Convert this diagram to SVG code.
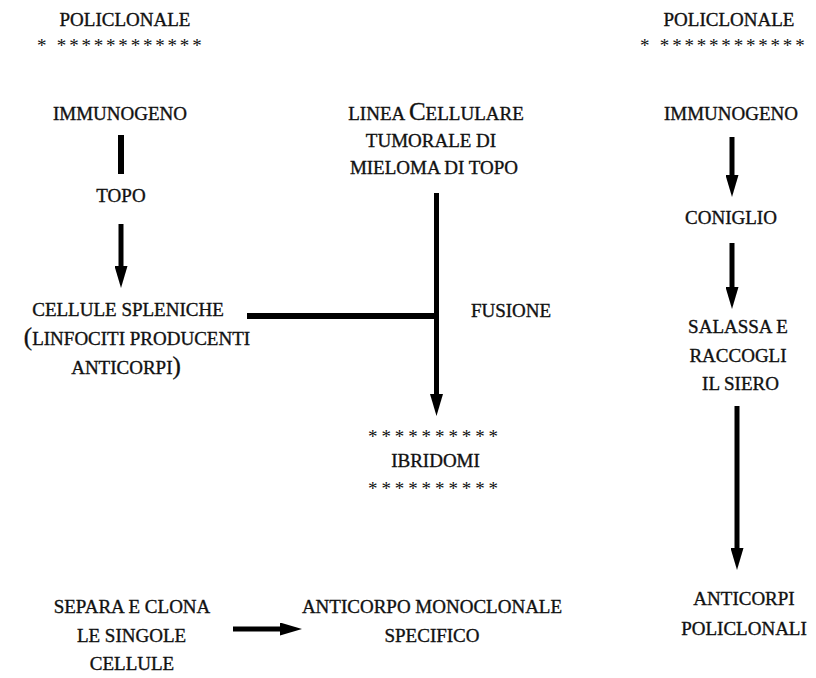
<svg xmlns="http://www.w3.org/2000/svg" width="816" height="678" viewBox="0 0 816 678">
  <style>
    text { font-family: "Liberation Serif", "Times New Roman", serif; font-size: 19px; fill: #111; stroke: #111; stroke-width: 0.35px; text-anchor: middle; }
    .stars { text-anchor: start; letter-spacing: 2.8px; stroke-width: 0; }
    .big { font-size: 25px; }
    .bar { stroke: #000; stroke-width: 6; fill: none; }
    .arrow { stroke: #000; stroke-width: 5; fill: none; marker-end: url(#head); }
  </style>
  <defs>
    <marker id="head" markerUnits="userSpaceOnUse" markerWidth="22" markerHeight="13" refX="1" refY="6.5" orient="auto">
      <path d="M0,0 L22,6.5 L0,13 Z" fill="#000"/>
    </marker>
  </defs>

  <rect width="816" height="678" fill="#fff"/>

  <!-- headings -->
  <g id="heading-left">
    <text x="125" y="26">POLICLONALE</text>
    <text class="stars" x="37" y="52">*  ************</text>
  </g>
  <g id="heading-right">
    <text x="729" y="26">POLICLONALE</text>
    <text class="stars" x="640" y="52">*  ************</text>
  </g>

  <!-- monoclonal branch -->
  <g id="immunogeno-left"><text x="120" y="120">IMMUNOGENO</text></g>
  <g id="topo"><text x="121" y="202">TOPO</text></g>
  <g id="cellule-spleniche">
    <text x="128" y="316">CELLULE SPLENICHE</text>
    <text x="137" y="345"><tspan class="big">(</tspan>LINFOCITI PRODUCENTI</text>
    <text x="126" y="374">ANTICORPI<tspan class="big">)</tspan></text>
  </g>
  <g id="linea-cellulare">
    <text x="436" y="120">LINEA <tspan class="big">C</tspan>ELLULARE</text>
    <text x="431" y="147">TUMORALE DI</text>
    <text x="434" y="174">MIELOMA DI TOPO</text>
  </g>
  <g id="fusione"><text x="511" y="317">FUSIONE</text></g>
  <g id="ibridomi">
    <text class="stars" x="368" y="443" style="letter-spacing:3.9px">**********</text>
    <text x="435.5" y="467">IBRIDOMI</text>
    <text class="stars" x="368" y="495" style="letter-spacing:3.9px">**********</text>
  </g>
  <g id="separa-clona">
    <text x="132" y="613">SEPARA E CLONA</text>
    <text x="131.5" y="642">LE SINGOLE</text>
    <text x="132" y="670">CELLULE</text>
  </g>
  <g id="anticorpo-monoclonale">
    <text x="432" y="613">ANTICORPO MONOCLONALE</text>
    <text x="432" y="642">SPECIFICO</text>
  </g>

  <!-- polyclonal branch -->
  <g id="immunogeno-right"><text x="731" y="120">IMMUNOGENO</text></g>
  <g id="coniglio"><text x="731" y="224">CONIGLIO</text></g>
  <g id="salassa">
    <text x="738" y="333">SALASSA E</text>
    <text x="738" y="362">RACCOGLI</text>
    <text x="740.5" y="390">IL SIERO</text>
  </g>
  <g id="anticorpi-policlonali">
    <text x="744" y="605">ANTICORPI</text>
    <text x="744" y="635">POLICLONALI</text>
  </g>

  <!-- connectors -->
  <g id="connectors">
    <line class="bar" x1="121" y1="135" x2="121" y2="174"/>
    <line class="arrow" x1="121" y1="224" x2="121" y2="267"/>
    <line class="bar" x1="247" y1="316" x2="437" y2="316"/>
    <line class="arrow" x1="436.5" y1="193" x2="436.5" y2="395"/>
    <line class="arrow" x1="233" y1="629" x2="281" y2="629"/>
    <line class="arrow" x1="732" y1="137" x2="732" y2="176"/>
    <line class="arrow" x1="732" y1="243" x2="732" y2="288"/>
    <line class="arrow" x1="737" y1="406" x2="737" y2="549"/>
  </g>
</svg>
